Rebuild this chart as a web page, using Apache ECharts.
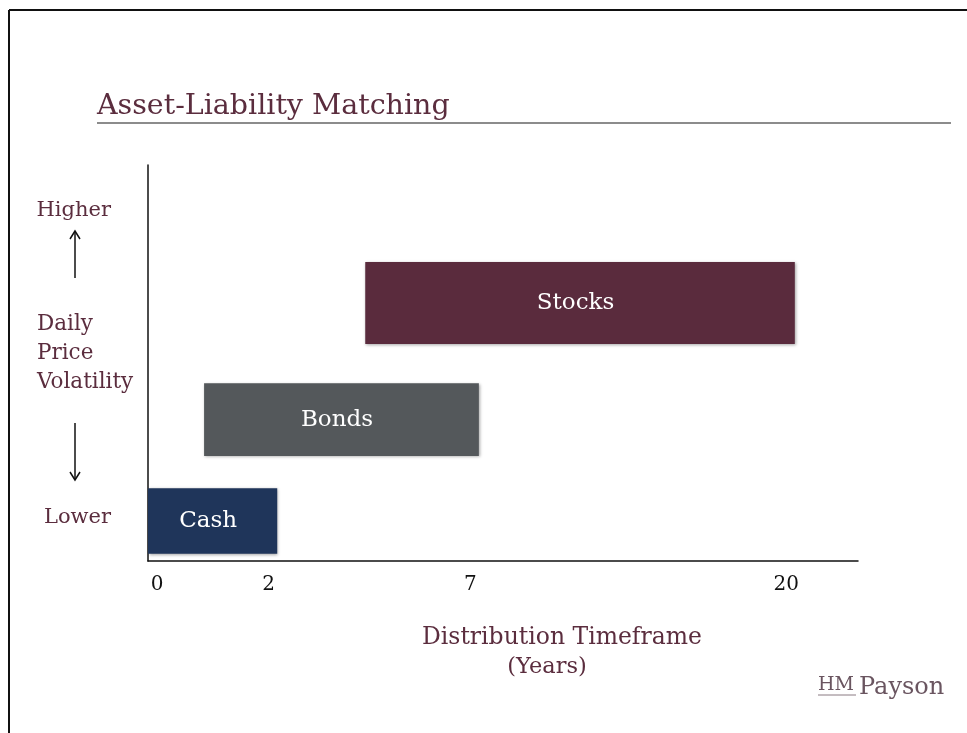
<!DOCTYPE html>
<html>
<head>
<meta charset="utf-8">
<script src="https://cdn.jsdelivr.net/npm/echarts@6/dist/echarts.min.js"></script>
<style>
  html, body { margin: 0; padding: 0; background: #ffffff; }
  #chart { width: 967px; height: 733px; }
</style>
</head>
<body>
<div id="chart"></div>
<script>
// Asset classes and their schematic spans (timeframe on x, volatility on y, 0-100 scale)
const assetClasses = ['Cash', 'Bonds', 'Stocks'];
const spanStart = [0, 7.9, 30.6];
const spanEnd = [18.2, 46.6, 91.1];
const volLow = [1.8, 26.5, 54.8];
const volHigh = [18.4, 44.9, 75.5];

// Timeframe axis labels (years) and where they sit on the schematic axis
const yearTicks = ['0', '2', '7', '20'];
const yearTickPos = [1.3, 17.0, 45.4, 89.9];

// Volatility axis labels
const volTicks = ['Lower', 'Higher'];
const volTickPos = [10.9, 88.6];

const classColors = { Cash: '#1f355a', Bonds: '#54585b', Stocks: '#5a2b3d' };
const maroon = '#5b2d3e';
const serif = '"DejaVu Serif", "Liberation Serif", serif';

const barData = assetClasses.map((name, i) => [spanStart[i], spanEnd[i], volLow[i], volHigh[i], name]);

const chart = echarts.init(document.getElementById('chart'), null, { renderer: 'canvas' });

chart.setOption({
  backgroundColor: '#ffffff',
  animation: false,
  title: {
    text: 'Asset-Liability Matching',
    left: 97,
    top: 92,
    padding: 0,
    textStyle: { fontFamily: serif, fontSize: 28.5, fontWeight: 'normal', color: maroon }
  },
  grid: { left: 148, top: 165, width: 710, height: 396, containLabel: false },
  xAxis: {
    type: 'value',
    min: 0,
    max: 100,
    axisLine: { show: true, lineStyle: { color: '#111', width: 1.5 } },
    axisTick: { show: false },
    splitLine: { show: false },
    axisLabel: {
      customValues: yearTickPos,
      formatter: v => yearTicks[yearTickPos.indexOf(v)],
      margin: 14,
      fontFamily: serif,
      fontSize: 20,
      color: '#111'
    }
  },
  yAxis: {
    type: 'value',
    min: 0,
    max: 100,
    axisLine: { show: true, lineStyle: { color: '#111', width: 1.5 } },
    axisTick: { show: false },
    splitLine: { show: false },
    axisLabel: {
      customValues: volTickPos,
      formatter: v => volTicks[volTickPos.indexOf(v)],
      margin: 37,
      fontFamily: serif,
      fontSize: 21,
      color: maroon
    }
  },
  series: [{
    type: 'custom',
    data: barData,
    encode: { x: [0, 1], y: [2, 3] },
    renderItem: (params, api) => {
      const p0 = api.coord([api.value(0), api.value(3)]);
      const p1 = api.coord([api.value(1), api.value(2)]);
      const name = assetClasses[params.dataIndex];
      return {
        type: 'group',
        children: [{
          type: 'rect',
          shape: { x: p0[0], y: p0[1], width: p1[0] - p0[0], height: p1[1] - p0[1] },
          style: {
            fill: classColors[name],
            shadowBlur: 3,
            shadowOffsetX: 1,
            shadowOffsetY: 1,
            shadowColor: 'rgba(0,0,0,0.35)'
          }
        }, {
          type: 'text',
          x: (p0[0] + p1[0]) / 2 - 4.5,
          y: (p0[1] + p1[1]) / 2,
          style: {
            text: name,
            fill: '#ffffff',
            font: '23px ' + serif,
            align: 'center',
            verticalAlign: 'middle'
          }
        }]
      };
    }
  }],
  graphic: [
    // slide frame
    { type: 'line', shape: { x1: 9, y1: 10, x2: 967, y2: 10 }, style: { stroke: '#111', lineWidth: 2 } },
    { type: 'line', shape: { x1: 9, y1: 10, x2: 9, y2: 733 }, style: { stroke: '#111', lineWidth: 2 } },
    // title rule
    { type: 'line', shape: { x1: 97, y1: 123, x2: 951, y2: 123 }, style: { stroke: '#8c8c8c', lineWidth: 2 } },
    // volatility caption
    {
      type: 'text', left: 37, top: 310,
      style: { text: 'Daily\nPrice\nVolatility', font: '21.5px ' + serif, fill: maroon, lineHeight: 29 }
    },
    // up arrow
    { type: 'line', shape: { x1: 75, y1: 232, x2: 75, y2: 278 }, style: { stroke: '#111', lineWidth: 1.5 } },
    { type: 'polyline', shape: { points: [[70, 239], [75, 231], [80, 239]] }, style: { stroke: '#111', lineWidth: 1.5, fill: null } },
    // down arrow
    { type: 'line', shape: { x1: 75, y1: 423, x2: 75, y2: 479 }, style: { stroke: '#111', lineWidth: 1.5 } },
    { type: 'polyline', shape: { points: [[70, 472], [75, 480], [80, 472]] }, style: { stroke: '#111', lineWidth: 1.5, fill: null } },
    // timeframe axis caption
    {
      type: 'text', x: 562, y: 638,
      style: { text: 'Distribution Timeframe', font: '23.5px ' + serif, fill: maroon, align: 'center', verticalAlign: 'middle' }
    },
    {
      type: 'text', x: 547, y: 667,
      style: { text: '(Years)', font: '22.5px ' + serif, fill: maroon, align: 'center', verticalAlign: 'middle' }
    },
    // firm mark
    {
      type: 'text', x: 818, y: 685,
      style: { text: 'HM', font: '19px ' + serif, fill: '#6a5560', verticalAlign: 'middle' }
    },
    { type: 'line', shape: { x1: 818, y1: 695, x2: 856, y2: 695 }, style: { stroke: '#8a7a82', lineWidth: 1 } },
    {
      type: 'text', x: 859, y: 688,
      style: { text: 'Payson', font: '24px ' + serif, fill: '#6a5560', verticalAlign: 'middle' }
    }
  ]
});
</script>
</body>
</html>
